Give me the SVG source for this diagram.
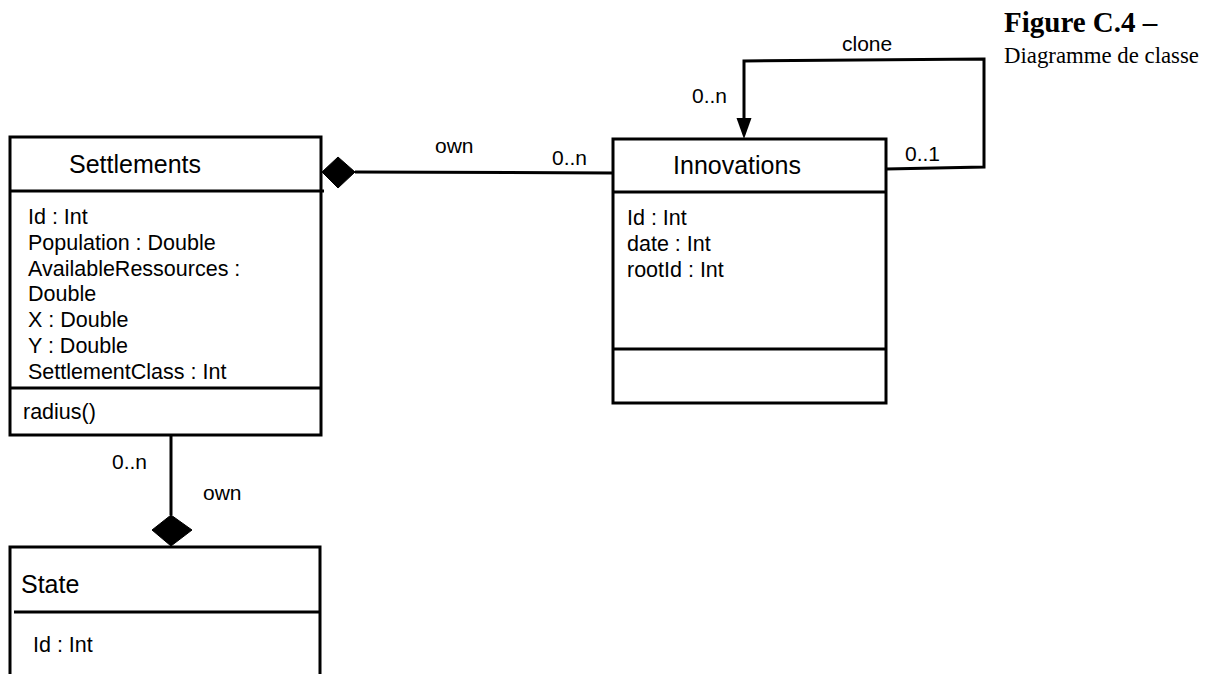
<svg xmlns="http://www.w3.org/2000/svg" width="1216" height="674" viewBox="0 0 1216 674">
<style>
.box{fill:#fff;stroke:#000;stroke-width:3}
.div{stroke:#000;stroke-width:3;fill:none}
.conn{stroke:#000;stroke-width:3;fill:none}
.dia{fill:#000;stroke:#000;stroke-width:1}
.hdr{font-family:"Liberation Sans",Arial,sans-serif;font-size:25px;fill:#000}
.att{font-family:"Liberation Sans",Arial,sans-serif;font-size:21.5px;fill:#000}
.lbl{font-family:"Liberation Sans",Arial,sans-serif;font-size:21px;fill:#000}
.cap1{font-family:"Liberation Serif","Times New Roman",serif;font-size:29px;font-weight:bold;fill:#000}
.cap2{font-family:"Liberation Serif","Times New Roman",serif;font-size:22.8px;fill:#000}
</style>
<g id="caption">
<text class="cap1" x="1004" y="32">Figure C.4 –</text>
<text class="cap2" x="1004" y="63">Diagramme de classe</text>
</g>
<g id="settlements">
<rect class="box" x="10" y="137" width="311" height="298"/>
<line class="div" x1="10" y1="191" x2="324" y2="191"/>
<line class="div" x1="10" y1="388" x2="321" y2="388"/>
<text class="hdr" x="135" y="173" text-anchor="middle">Settlements</text>
<text class="att" x="28" y="224">Id : Int</text>
<text class="att" x="28" y="250">Population : Double</text>
<text class="att" x="28" y="276">AvailableRessources :</text>
<text class="att" x="28" y="301">Double</text>
<text class="att" x="28" y="327">X : Double</text>
<text class="att" x="28" y="353">Y : Double</text>
<text class="att" x="28" y="379">SettlementClass : Int</text>
<text class="att" x="23" y="419">radius()</text>
</g>
<g id="innovations">
<rect class="box" x="613" y="139" width="273" height="264"/>
<line class="div" x1="613" y1="192" x2="886" y2="192"/>
<line class="div" x1="613" y1="349" x2="886" y2="349"/>
<text class="hdr" x="737" y="174" text-anchor="middle">Innovations</text>
<text class="att" x="627" y="225">Id : Int</text>
<text class="att" x="627" y="251">date : Int</text>
<text class="att" x="627" y="277">rootId : Int</text>
</g>
<g id="state">
<path class="box" d="M10,680 L10,547 L320,547 L320,680"/>
<line class="div" x1="14" y1="612" x2="320" y2="612"/>
<text class="hdr" x="21" y="593">State</text>
<text class="att" x="33" y="652">Id : Int</text>
</g>
<g id="connectors">
<line class="conn" x1="355" y1="172" x2="613" y2="173"/>
<path class="dia" d="M322,172 L338,157 L355,172 L338,188 Z"/>
<text class="lbl" x="435" y="153">own</text>
<text class="lbl" x="552" y="165">0..n</text>
<polyline class="conn" points="886,169 984,167 984,59 744,61 744,120"/>
<path d="M736.5,118 L751.5,118 L744,139 Z" fill="#000"/>
<text class="lbl" x="842" y="51">clone</text>
<text class="lbl" x="692" y="103">0..n</text>
<text class="lbl" x="905" y="161">0..1</text>
<line class="conn" x1="171" y1="435" x2="171" y2="515"/>
<path class="dia" d="M171,515 L192,530 L171,546 L152,530 Z"/>
<text class="lbl" x="112" y="469">0..n</text>
<text class="lbl" x="203" y="500">own</text>
</g>
</svg>
